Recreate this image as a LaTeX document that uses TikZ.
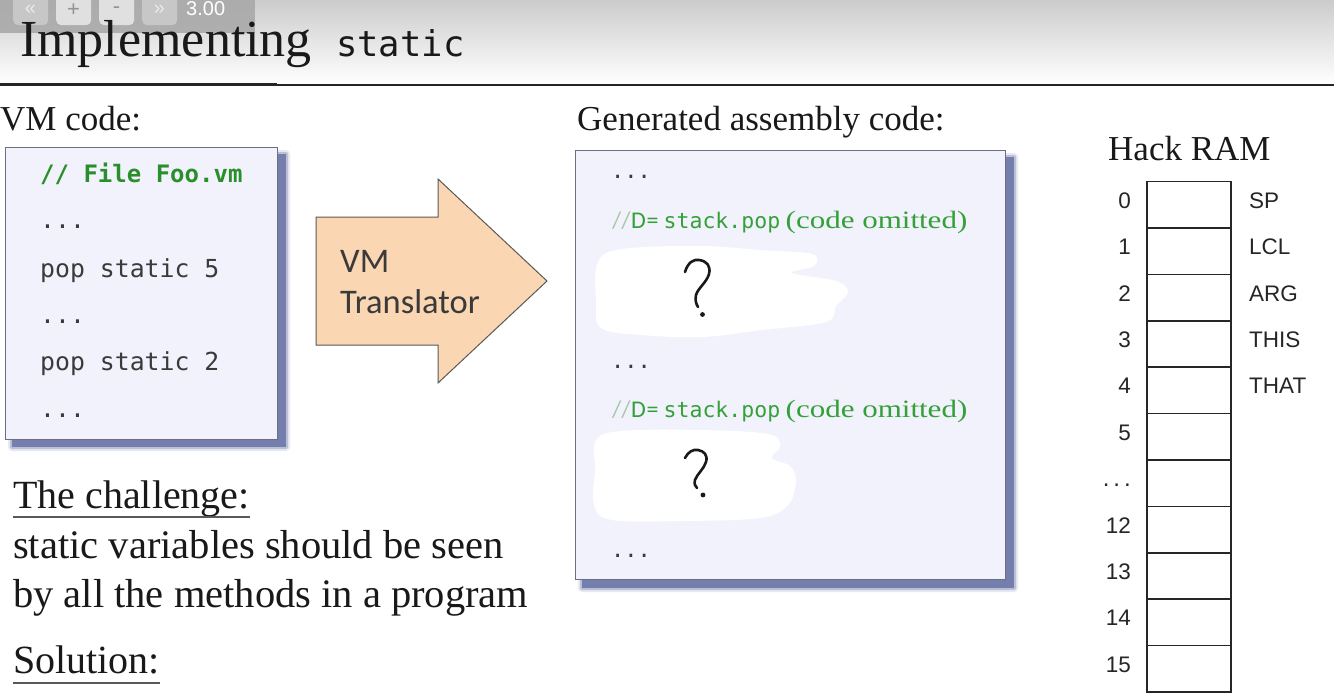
\documentclass[tikz,border=0pt]{standalone}
\usepackage{fontspec}
\setmainfont{Liberation Serif}
\newfontfamily\monoF{DejaVu Sans Mono}
\newfontfamily\caliF{Carlito}
\newfontfamily\arialF{Liberation Sans}
\newfontfamily\serifW{Liberation Serif}[FakeStretch=1.24]
\newcommand\setfs[1]{\fontsize{#1}{#1}\selectfont}
\definecolor{boxfill}{HTML}{F2F2FC}
\definecolor{boxdraw}{HTML}{6E6E80}
\definecolor{peach}{HTML}{FBD6B2}
\definecolor{greenD}{HTML}{2A8F2A}
\definecolor{greenL}{HTML}{34A038}
\definecolor{greenS}{HTML}{A8C8A8}
\definecolor{codegray}{HTML}{3A3A3A}
\definecolor{shadowc}{HTML}{3C4B8C}
\definecolor{barc}{HTML}{A9A9A9}
\newcommand\cmtline{\hbox{\caliF\setfs{24}\color{greenS}\makebox[19pt][l]{//}\color{greenL}\makebox[15.5pt][l]{D}\makebox[17pt][l]{=}{\monoF\setfs{21.5}\makebox[122pt][l]{stack.pop}}{\serifW\setfs{25}(code omitted)}}}
\begin{document}
\begin{tikzpicture}[x=1pt,y=-1pt,
  txt/.style={inner sep=0pt, anchor=base west},
  codebox/.style={fill=boxfill, draw=boxdraw, line width=1.2pt, inner sep=0pt, anchor=north west},
  codetxt/.style={txt, font=\monoF\setfs{24.8}, text=codegray},
  ramcell/.style={draw=black!85, line width=1.6pt, fill=white, inner sep=0pt, anchor=north west, minimum width=84pt, minimum height=46.4pt},
  ramnum/.style={inner sep=0pt, anchor=base east, font=\arialF\setfs{22.5}, text=black!85},
  ramlab/.style={inner sep=0pt, anchor=base west, font=\arialF\setfs{22.5}, text=black!85},
  blob/.style={fill=white, draw=none},
  qmark/.style={line width=2.6pt, line cap=round, line join=round, black!90},
  serif34/.style={txt, font=\setfs{35}, text=black!90},
  bodytxt/.style={txt, font=\setfs{40.5}, text=black!90},
  btn/.style={rounded corners=5pt, inner sep=0pt, anchor=north west, minimum width=35pt, minimum height=37pt}
]
\useasboundingbox (0,0) rectangle (1334,693);
\clip (0,0) rectangle (1334,693);
\fill[white] (0,0) rectangle (1334,693);
% header
\shade[top color=black!20, bottom color=white] (0,0) rectangle (1334,84);
\draw[line width=3pt, black!85] (0,85) -- (277,85);
\draw[line width=2pt, black!85] (277,85) -- (1334,85);
% toolbar overlay
\fill[barc, opacity=0.9] (0,0) rectangle (255,33);
\node[btn, fill=black!22] (b1) at (13,-12) {};
\node[btn, fill=black!12] (b2) at (56,-12) {};
\node[btn, fill=black!12] (b3) at (99,-12) {};
\node[btn, fill=black!22] (b4) at (142,-12) {};
\node[font=\arialF\setfs{20}, text=black!8, inner sep=0pt] (s1) at (30.5,10) {«};
\node[font=\arialF\setfs{22}, text=black!42, inner sep=0pt] (s2) at (73.5,10) {+};
\node[font=\arialF\setfs{22}, text=black!42, inner sep=0pt] (s3) at (116.5,10) {-};
\node[font=\arialF\setfs{20}, text=black!8, inner sep=0pt] (s4) at (159.5,10) {»};
\node[txt, font=\arialF\setfs{20}, text=white] (zoomv) at (186,16) {3.00};
% title
\node[txt, font=\setfs{52}, text=black!90] (title) at (20,57) {Implementing};
\node[txt, font=\monoF\setfs{35.5}, text=black!90] (titlemono) at (336,57) {static};
% section labels
\node[serif34] (vmlabel) at (0,130) {VM code:};
\node[serif34] (genlabel) at (577,130) {Generated assembly code:};
\node[serif34] (ramlabel) at (1108,160) {Hack RAM};
% VM code box
\foreach \d/\o in {0/0.55,2/0.25,4/0.12}
  \fill[shadowc, opacity=\o, rounded corners=\d pt] (12-\d,154-\d) rectangle (286+\d,447+\d);
\node[codebox, minimum width=272pt, minimum height=292pt] (vmbox) at (5,147) {};
\node[txt, font=\monoF\bfseries\setfs{24}, text=greenD] (vm1) at (40,182) {// File Foo.vm};
\node[codetxt] (vm2) at (40,228) {...};
\node[codetxt] (vm3) at (40,277) {pop static 5};
\node[codetxt] (vm4) at (40,323) {...};
\node[codetxt] (vm5) at (40,370) {pop static 2};
\node[codetxt] (vm6) at (40,417) {...};
% translator arrow
\draw[fill=peach, draw=black!65, line width=1pt, line join=miter]
  (316,217) -- (438,217) -- (438,179) -- (547,281) -- (438,383) -- (438,345) -- (316,345) -- cycle;
\node[txt, align=left, font=\caliF\fontsize{34.5}{41}\selectfont, text=codegray] (vmt) at (340,313) {VM\\Translator};
% generated code box
\foreach \d/\o in {0/0.55,2/0.25,4/0.12}
  \fill[shadowc, opacity=\o, rounded corners=\d pt] (582-\d,157-\d) rectangle (1014+\d,588+\d);
\node[codebox, minimum width=430pt, minimum height=429pt] (asmbox) at (575,150) {};
\node[codetxt, font=\monoF\setfs{22}] (a1) at (611,178) {...};
\node[txt] (a2) at (612,228) {\cmtline};
\node[codetxt, font=\monoF\setfs{22}] (a3) at (611,368) {...};
\node[txt] (a4) at (612,417) {\cmtline};
\node[codetxt, font=\monoF\setfs{22}] (a5) at (611,557) {...};
% white blobs
\fill[blob] plot[smooth cycle, tension=0.6] coordinates {(598,262) (622,249) (700,246) (760,250) (812,254) (814,266) (792,273) (836,281) (848,292) (836,306) (826,322) (762,330) (702,337) (642,335) (601,328) (596,300)};
\fill[blob] plot[smooth cycle, tension=0.6] coordinates {(596,440) (622,431) (700,430) (768,434) (780,446) (772,458) (790,466) (796,481) (788,505) (760,518) (682,521) (612,520) (594,505) (595,470)};
% question marks
\draw[qmark] (685,272) .. controls (688,262) and (694,259) .. (699,260) .. controls (707,261) and (711,266) .. (709,274) .. controls (707,282) and (698,288) .. (696,295) .. controls (695,300) and (696,304) .. (698,307);
\fill[black!90] (702.5,314.5) circle (2.4pt);
\draw[qmark] (685,458) .. controls (688,452) and (693,449) .. (698,450) .. controls (704,451) and (708,455) .. (706,462) .. controls (704,469) and (697,474) .. (695,480) .. controls (694,484) and (695,486) .. (697,488);
\fill[black!90] (703,495) circle (2.4pt);
% bottom text
\node[bodytxt, font=\setfs{40}] (chal) at (13,508) {The challenge:};
\draw[line width=2pt, black!65] ([yshift=-8.7pt]chal.base west) -- ([yshift=-8.7pt]chal.base east);
\node[bodytxt] (l1) at (13,558) {static variables should be seen};
\node[bodytxt] (l2) at (13,607) {by all the methods in a program};
\node[bodytxt, font=\setfs{40}] (sol) at (13,673) {Solution:};
\draw[line width=2pt, black!65] ([yshift=-10pt]sol.base west) -- ([yshift=-10pt]sol.base east);
% RAM
\foreach \i in {0,...,11}
  \node[ramcell] (r\i) at (1146,180.7+46.4*\i) {};
\foreach \lab/\i in {0/0,1/1,2/2,3/3,4/4,5/5,12/7,13/8,14/9,15/10}
  \node[ramnum] (n\i) at (1131,208.3+46.4*\i) {\lab};
\node[ramnum, font=\arialF\setfs{24}] (n6) at (1131,486.5) {.\,.\,.};
\foreach \lab/\i in {SP/0,LCL/1,ARG/2,THIS/3,THAT/4}
  \node[ramlab] (lab\i) at (1249,208.3+46.4*\i) {\lab};
\end{tikzpicture}
\end{document}
